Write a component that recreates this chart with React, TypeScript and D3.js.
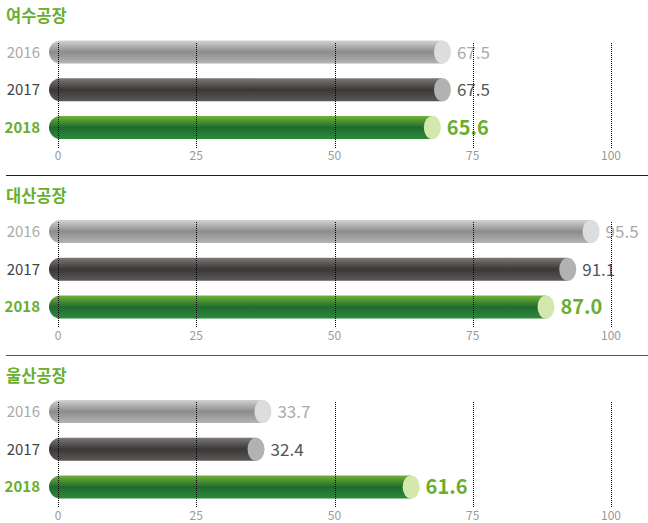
import React from "react";
import * as d3 from "d3";

const plants = ["여수공장", "대산공장", "울산공장"];
const years = ["2016", "2017", "2018"];
const values2016 = [67.5, 95.5, 33.7];
const values2017 = [67.5, 91.1, 32.4];
const values2018 = [65.6, 87.0, 61.6];
const ticks = [0, 25, 50, 75, 100];

const W = 648;
const H = 523;

const series = [values2016, values2017, values2018];

const x = d3.scaleLinear().domain([0, 100]).range([58, 611]);
const xBar = d3.scaleLinear().domain([0, 100]).range([84, 615]);

const sectionTop = [0, 179.5, 359.5];
const barBand = d3.scaleBand().domain(years).range([40.5, 139]).paddingInner(0.39).paddingOuter(0);

const styles = [
  { id: "g16", stops: ["#d2d2d2", "#8c8c8c", "#b4b4b4"], cap: "#dcdddd", year: "#aaaaaa", val: "#aaaaaa", yw: 400, vw: 400, vs: 17 },
  { id: "g17", stops: ["#7b7878", "#3b3737", "#5b5858"], cap: "#b2b2b2", year: "#444444", val: "#555555", yw: 400, vw: 400, vs: 17 },
  { id: "g18", stops: ["#72b236", "#1f6b2f", "#2c8a3b"], cap: "#d4e7ad", year: "#6aae2e", val: "#6aae2e", yw: 700, vw: 700, vs: 20 },
];

const FONT = "'Noto Sans CJK KR', 'Noto Sans', sans-serif";

export default function App() {
  const h = barBand.bandwidth();
  const r = h / 2;
  const left = 49;
  return (
    <svg width={W} height={H} style={{ position: "absolute", left: 0, top: 0 }} fontFamily={FONT}>
      <defs>
        {styles.map((s) => (
          <linearGradient key={s.id} id={s.id} x1="0" y1="0" x2="0" y2="1">
            <stop offset="0" stopColor={s.stops[0]} />
            <stop offset="0.5" stopColor={s.stops[1]} />
            <stop offset="1" stopColor={s.stops[2]} />
          </linearGradient>
        ))}
      </defs>
      <line x1={6} x2={W} y1={175.5} y2={175.5} stroke="#222" strokeWidth={1.2} />
      <line x1={6} x2={W} y1={355.5} y2={355.5} stroke="#555" strokeWidth={1.2} />
      {plants.map((p, pi) => {
        const top = sectionTop[pi];
        const gridTop = Math.round(top + barBand(years[0])! + 2);
        const gridBottom = Math.round(top + barBand(years[2])! + h + 9);
        return (
          <g key={p}>
            <text x={6} y={top + 22} fontSize={16.5} fontWeight={700} fill="#6aae2e">
              {p}
            </text>
            {years.map((yr, yi) => {
              const s = styles[yi];
              const v = series[yi][pi];
              const y0 = top + barBand(yr)!;
              const xc = xBar(v);
              const rx = 8.5;
              const d = `M${left + r},${y0} L${xc},${y0} L${xc},${y0 + h} L${left + r},${y0 + h} A${r},${r} 0 0 1 ${left + r},${y0} Z`;
              return (
                <g key={yr}>
                  <text x={40} y={y0 + r + 5.5} fontSize={15} textAnchor="end" fontWeight={s.yw} fill={s.year}>
                    {yr}
                  </text>
                  <path d={d} fill={`url(#${s.id})`} />
                  <ellipse cx={xc} cy={y0 + r} rx={rx} ry={r} fill={s.cap} />
                  <text x={xc + rx + 6} y={y0 + r + (yi === 2 ? 7.5 : 6.5)} fontSize={s.vs} fontWeight={s.vw} fill={s.val}>
                    {v.toFixed(1)}
                  </text>
                </g>
              );
            })}
            {ticks.map((t) => (
              <g key={t}>
                <line
                  x1={Math.round(x(t)) + 0.5}
                  x2={Math.round(x(t)) + 0.5}
                  y1={gridTop}
                  y2={gridBottom}
                  stroke="#000"
                  strokeWidth={1}
                  strokeDasharray="1,1"
                />
                <text x={x(t)} y={gridBottom + 12} fontSize={12} textAnchor="middle" fill="#999">
                  {t}
                </text>
              </g>
            ))}
          </g>
        );
      })}
    </svg>
  );
}
